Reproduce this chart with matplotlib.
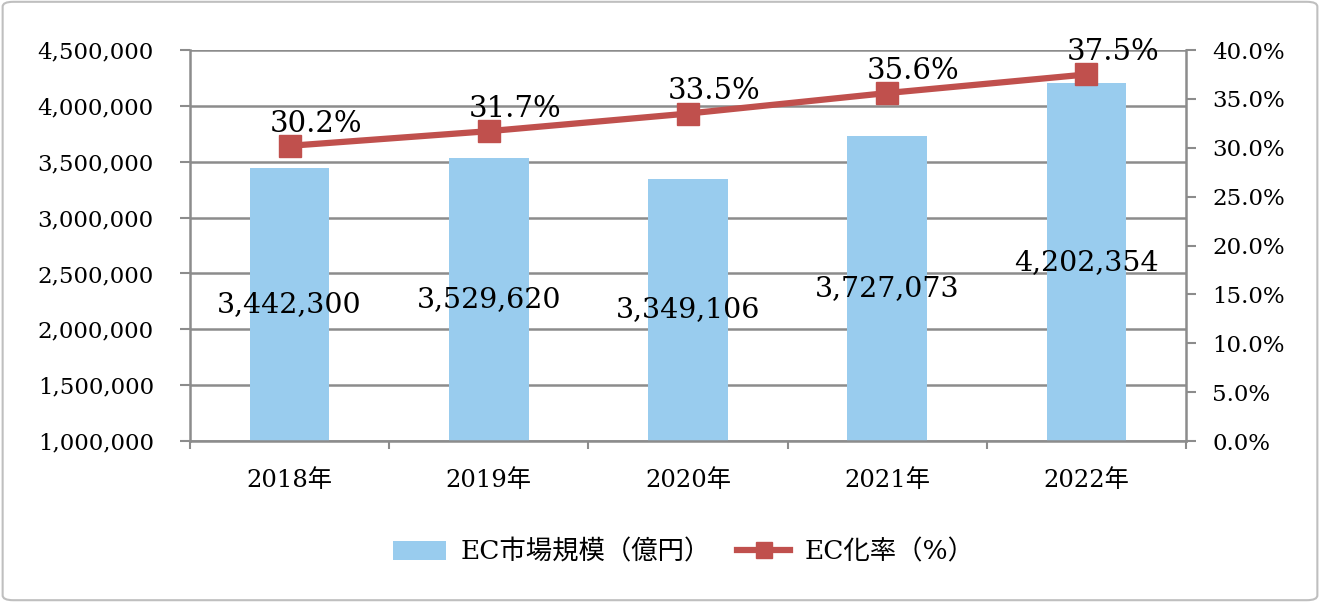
import matplotlib
matplotlib.use("Agg")
import matplotlib.pyplot as plt
from matplotlib.patches import FancyBboxPatch
from matplotlib.ticker import FuncFormatter

plt.rcParams['font.family'] = ['DejaVu Serif', 'Noto Sans CJK JP']

categories = ['2018年', '2019年', '2020年', '2021年', '2022年']
market_size = [3442300, 3529620, 3349106, 3727073, 4202354]
ec_rate = [30.2, 31.7, 33.5, 35.6, 37.5]
bar_label = 'EC市場規模（億円）'
line_label = 'EC化率（%）'

bar_color = '#99CCEE'
line_color = '#C0504D'
grid_color = '#8C8C8C'

fig = plt.figure(figsize=(13.2, 6.02), dpi=100)
border = FancyBboxPatch((0.002, 0.003), 0.996, 0.994, boxstyle="round,pad=0,rounding_size=0.008",
                        transform=fig.transFigure, facecolor='white', edgecolor='#BFBFBF', linewidth=1.5,
                        zorder=-10)
fig.patches.append(border)
ax = fig.add_axes([0.1439, 0.2674, 0.7546, 0.6495])
ax.set_facecolor('none')
x = range(len(categories))
bars = ax.bar(x, market_size, width=0.4, color=bar_color, zorder=2)
ax.set_ylim(1000000, 4500000)
ax.set_yticks(range(1000000, 4500001, 500000))
ax.yaxis.set_major_formatter(FuncFormatter(lambda v, p: f'{int(v):,}'))
ax.set_xlim(-0.5, len(categories) - 0.5)
ax.set_xticks(list(x))
ax.set_xticklabels(categories, fontsize=17.5)
ax.set_xticks([i + 0.5 for i in range(-1, len(categories))], minor=True)
ax.tick_params(axis='x', which='major', length=0, pad=20)
ax.tick_params(axis='x', which='minor', length=6, width=1.5, color=grid_color)
ax.tick_params(axis='y', labelsize=16.5, length=7, width=1.5, color=grid_color, pad=19)
ax.grid(axis='y', color=grid_color, linewidth=1.8, zorder=0)
for s in ['top', 'right']:
    ax.spines[s].set_visible(False)
for s in ['left', 'bottom']:
    ax.spines[s].set_color(grid_color)
    ax.spines[s].set_linewidth(1.8)

for i, v in enumerate(market_size):
    ax.text(i, (1000000 + v) / 2, f'{v:,}', ha='center', va='center', fontsize=20.5, zorder=5)

ax2 = ax.twinx()
ax2.set_ylim(0, 40)
ax2.set_yticks(range(0, 41, 5))
ax2.yaxis.set_major_formatter(FuncFormatter(lambda v, p: f'{v:.1f}%'))
ax2.tick_params(axis='y', labelsize=16.5, length=7, width=1.5, color=grid_color, pad=12)
for s in ['top', 'left', 'bottom']:
    ax2.spines[s].set_visible(False)
ax2.spines['right'].set_color(grid_color)
ax2.spines['right'].set_linewidth(1.8)
ln, = ax2.plot(list(x), ec_rate, color=line_color, linewidth=4.5, marker='s', markersize=16, zorder=4)
for i, v in enumerate(ec_rate):
    ax2.annotate(f'{v:.1f}%', (i, v), xytext=(19, 16), textcoords='offset points',
                 ha='center', va='center', fontsize=21, zorder=6)

fig.legend([bars, ln], [bar_label, line_label], loc='center', bbox_to_anchor=(0.518, 0.083),
           ncol=2, frameon=False, fontsize=19, handlelength=2.0, columnspacing=1.0, handletextpad=0.55,
           markerscale=0.75)

fig.savefig('out.png', dpi=100)
